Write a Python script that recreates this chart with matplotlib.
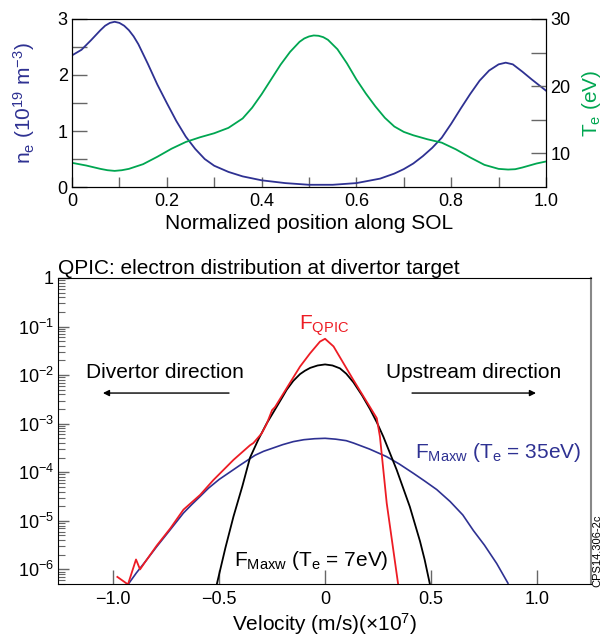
import matplotlib
matplotlib.use("Agg")
import matplotlib.pyplot as plt
from matplotlib.ticker import FixedLocator, FixedFormatter, LogLocator, NullFormatter

plt.rcParams['font.family'] = ['Liberation Sans', 'DejaVu Sans']
plt.rcParams['mathtext.fontset'] = 'custom'
plt.rcParams['mathtext.rm'] = 'Liberation Sans'
plt.rcParams['mathtext.it'] = 'Liberation Sans:italic'
plt.rcParams['mathtext.bf'] = 'Liberation Sans:bold'

# ---------------- data: top panel ----------------
ne_pos = [0.00, 0.02, 0.04, 0.06, 0.07, 0.08, 0.09, 0.10, 0.11, 0.12, 0.13, 0.14, 0.16,
          0.18, 0.20, 0.22, 0.24, 0.26, 0.28, 0.30, 0.33, 0.36, 0.40, 0.45, 0.50, 0.55,
          0.60, 0.65, 0.68, 0.70, 0.72, 0.74, 0.76, 0.78, 0.80, 0.82, 0.84, 0.86, 0.88,
          0.90, 0.915, 0.93, 0.95, 0.97, 1.00]
ne_val = [2.35, 2.45, 2.62, 2.80, 2.88, 2.93, 2.95, 2.93, 2.88, 2.80, 2.69, 2.55, 2.20,
          1.83, 1.50, 1.18, 0.90, 0.68, 0.50, 0.38, 0.27, 0.19, 0.12, 0.07, 0.04, 0.04,
          0.07, 0.15, 0.24, 0.32, 0.42, 0.55, 0.70, 0.88, 1.13, 1.40, 1.66, 1.90, 2.08,
          2.19, 2.22, 2.19, 2.06, 1.92, 1.72]

te_pos = [0.00, 0.03, 0.06, 0.075, 0.09, 0.105, 0.12, 0.15, 0.18, 0.21, 0.24, 0.27, 0.30,
          0.33, 0.36, 0.38, 0.40, 0.42, 0.44, 0.46, 0.48, 0.49, 0.50, 0.51, 0.52, 0.53,
          0.54, 0.56, 0.58, 0.60, 0.62, 0.64, 0.66, 0.68, 0.70, 0.72, 0.75, 0.78, 0.81,
          0.84, 0.87, 0.90, 0.92, 0.935, 0.95, 0.98, 1.00]
te_val = [8.6, 8.2, 7.7, 7.5, 7.4, 7.5, 7.7, 8.4, 9.5, 10.7, 11.7, 12.4, 13.0,
          13.8, 15.2, 16.8, 18.8, 21.0, 23.2, 25.1, 26.6, 27.1, 27.4, 27.55, 27.5, 27.3,
          26.9, 25.5, 23.4, 21.0, 18.9, 17.0, 15.3, 14.0, 13.2, 12.7, 12.1, 11.6, 10.6,
          9.4, 8.3, 7.7, 7.6, 7.65, 7.9, 8.5, 8.8]

pos_ticks = [0, 0.2, 0.4, 0.6, 0.8, 1.0]
pos_ticklabels = ['0', '0.2', '0.4', '0.6', '0.8', '1.0']
ne_ticks = [0, 1, 2, 3]
te_ticks = [10, 20, 30]

# ---------------- data: bottom panel ----------------
maxw35_v = [-0.928, -0.89, -0.85, -0.794, -0.73, -0.668, -0.63, -0.59, -0.55, -0.50,
            -0.45, -0.40, -0.33, -0.29, -0.245, -0.20, -0.15, -0.10, -0.05, 0.0,
            0.05, 0.10, 0.134, 0.21, 0.29, 0.35, 0.417, 0.47, 0.527, 0.59,
            0.65, 0.70, 0.752, 0.81, 0.863]
maxw35_f = [5.0e-7, 8.5e-7, 1.41e-6, 2.95e-6, 6.6e-6, 1.45e-5, 2.14e-5, 3.16e-5, 4.7e-5, 7.1e-5,
            1.0e-4, 1.41e-4, 2.24e-4, 2.7e-4, 3.16e-4, 3.7e-4, 4.27e-4, 4.68e-4, 4.9e-4, 5.0e-4,
            4.8e-4, 4.47e-4, 4.0e-4, 3.0e-4, 2.1e-4, 1.48e-4, 9.5e-5, 6.6e-5, 4.4e-5, 2.5e-5,
            1.32e-5, 6.3e-6, 3.16e-6, 1.32e-6, 5.2e-7]

qpic_v = [-0.98, -0.93, -0.892, -0.873, -0.85, -0.794, -0.73, -0.668, -0.59, -0.527,
          -0.432, -0.354, -0.338, -0.299, -0.275, -0.25, -0.236, -0.181, -0.118, -0.071,
          -0.024, 0.0, 0.04, 0.134, 0.212, 0.244, 0.259, 0.291, 0.345]
qpic_f = [7.0e-7, 4.9e-7, 1.6e-6, 1.0e-6, 1.4e-6, 3.1e-6, 7.0e-6, 1.7e-5, 3.4e-5, 6.9e-5,
          1.8e-4, 3.6e-4, 4.0e-4, 6.3e-4, 1.0e-3, 1.9e-3, 2.2e-3, 5.4e-3, 1.5e-2, 2.8e-2,
          4.9e-2, 5.6e-2, 3.9e-2, 7.9e-3, 2.2e-3, 1.3e-3, 5.4e-4, 2.3e-5, 4.9e-7]

maxw7_v = [-0.511, -0.47, -0.432, -0.39, -0.354, -0.315, -0.275, -0.228, -0.20, -0.181,
           -0.15, -0.118, -0.095, -0.07, -0.035, 0.0, 0.035, 0.07, 0.10, 0.134,
           0.175, 0.212, 0.245, 0.275, 0.338, 0.40, 0.448, 0.47, 0.495]
maxw7_f = [4.9e-7, 2.8e-6, 1.23e-5, 5.2e-5, 2.0e-4, 4.7e-4, 1.02e-3, 2.24e-3, 3.6e-3, 5.0e-3,
           7.6e-3, 1.05e-2, 1.23e-2, 1.41e-2, 1.58e-2, 1.66e-2, 1.58e-2, 1.38e-2, 1.07e-2, 7.1e-3,
           3.8e-3, 2.0e-3, 1.05e-3, 5.4e-4, 1.12e-4, 1.95e-5, 3.8e-6, 1.58e-6, 4.9e-7]

v_ticks = [-1.0, -0.5, 0, 0.5, 1.0]
v_ticklabels = ['\u22121.0', '\u22120.5', '0', '0.5', '1.0']
f_ticks = [1e-6, 1e-5, 1e-4, 1e-3, 1e-2, 1e-1, 1]
f_ticklabels = [r'$\mathregular{10^{-6}}$', r'$\mathregular{10^{-5}}$', r'$\mathregular{10^{-4}}$',
                r'$\mathregular{10^{-3}}$', r'$\mathregular{10^{-2}}$', r'$\mathregular{10^{-1}}$', '1']

BLUE = '#2e3192'
GREEN = '#00a651'
RED = '#ed1c24'
TICKC = '#666666'
FS_TICK = 13
FS_LAB = 15

fig = plt.figure(figsize=(6.05, 6.37), dpi=100)

# ---------------- top panel ----------------
ax1 = fig.add_axes([0.119, 0.7064, 0.7835, 0.2638])
ax1.plot(ne_pos, ne_val, color=BLUE, lw=1.3)
ax1.set_xlim(0, 1.0)
ax1.set_ylim(0, 3)
ax1.xaxis.set_major_locator(FixedLocator(pos_ticks))
ax1.xaxis.set_major_formatter(FixedFormatter(pos_ticklabels))
ax1.xaxis.set_minor_locator(FixedLocator([0.1, 0.3, 0.5, 0.7, 0.9]))
ax1.yaxis.set_major_locator(FixedLocator(ne_ticks))
ax1.yaxis.set_minor_locator(FixedLocator([0.5, 1.5, 2.5]))
ax1.tick_params(which='both', direction='in', color=TICKC, labelsize=FS_TICK, width=1.0)
ax1.tick_params(axis='x', which='both', length=7)
ax1.tick_params(axis='y', which='both', length=11)
ax1.tick_params(axis='x', pad=4)
ax1.tick_params(axis='y', pad=3)
ax1.set_xlabel('Normalized position along SOL', fontsize=FS_LAB, labelpad=3)
ax1.set_ylabel(r'$\mathregular{n_e}$ ($\mathregular{10^{19}}$ $\mathregular{m^{-3}}$)',
               fontsize=FS_LAB, color=BLUE, labelpad=15)

ax1b = ax1.twinx()
ax1b.plot(te_pos, te_val, color=GREEN, lw=1.3)
ax1b.set_ylim(5, 30)
ax1b.yaxis.set_major_locator(FixedLocator(te_ticks))
ax1b.yaxis.set_minor_locator(FixedLocator([15, 25]))
ax1b.tick_params(which='both', direction='in', color=TICKC, labelsize=FS_TICK, length=11, width=1.0, pad=3)
ax1b.set_ylabel(r'$\mathregular{T_e}$ (eV)', fontsize=FS_LAB, color=GREEN, labelpad=7)

# ---------------- bottom panel ----------------
ax2 = fig.add_axes([0.0959, 0.0832, 0.881, 0.4804])
ax2.plot(maxw35_v, maxw35_f, color=BLUE, lw=1.2)
ax2.plot(maxw7_v, maxw7_f, color='black', lw=1.3)
ax2.plot(qpic_v, qpic_f, color=RED, lw=1.3)
ax2.set_yscale('log')
ax2.set_xlim(-1.26, 1.255)
ax2.set_ylim(5e-7, 1)
ax2.xaxis.set_major_locator(FixedLocator(v_ticks))
ax2.xaxis.set_major_formatter(FixedFormatter(v_ticklabels))
ax2.yaxis.set_major_locator(FixedLocator(f_ticks))
ax2.yaxis.set_major_formatter(FixedFormatter(f_ticklabels))
ax2.yaxis.set_minor_locator(LogLocator(base=10, subs=range(2, 10), numticks=20))
ax2.yaxis.set_minor_formatter(NullFormatter())
ax2.tick_params(which='both', direction='in', color=TICKC, labelsize=FS_TICK)
ax2.tick_params(axis='x', which='major', length=10, width=1.0, pad=5)
ax2.tick_params(axis='y', which='major', length=8, width=1.0, pad=3)
ax2.tick_params(axis='y', which='minor', length=5, width=0.8)
ax2.spines['right'].set_color('#888888')
ax2.spines['right'].set_linewidth(1.5)
ax2.set_xlabel(r'Velocity (m/s)(×$\mathregular{10^7}$)', fontsize=FS_LAB, labelpad=2)
ax2.set_title('QPIC: electron distribution at divertor target', fontsize=FS_LAB, loc='left', pad=3)

ax2.text(0.2, 0.69, 'Divertor direction', transform=ax2.transAxes, fontsize=FS_LAB,
         ha='center', va='center')
ax2.text(0.779, 0.69, 'Upstream direction', transform=ax2.transAxes, fontsize=FS_LAB,
         ha='center', va='center')
ax2.annotate('', xy=(0.079, 0.624), xytext=(0.326, 0.624), xycoords='axes fraction',
             arrowprops=dict(arrowstyle='-|>', color='black', lw=1.0, mutation_scale=9))
ax2.annotate('', xy=(0.902, 0.624), xytext=(0.659, 0.624), xycoords='axes fraction',
             arrowprops=dict(arrowstyle='-|>', color='black', lw=1.0, mutation_scale=9))
ax2.text(0.5, 0.83, r'$\mathregular{F_{QPIC}}$', transform=ax2.transAxes, fontsize=FS_LAB,
         color=RED, ha='center', va='baseline')
ax2.text(0.67, 0.412, r'$\mathregular{F_{Maxw}}$ ($\mathregular{T_e}$ = 35eV)', transform=ax2.transAxes,
         fontsize=FS_LAB, color=BLUE, ha='left', va='baseline')
ax2.text(0.33, 0.059, r'$\mathregular{F_{Maxw}}$ ($\mathregular{T_e}$ = 7eV)', transform=ax2.transAxes,
         fontsize=FS_LAB, color='black', ha='left', va='baseline')

fig.text(0.987, 0.135, 'CPS14.306-2c', rotation=90, fontsize=8, ha='center', va='center')

fig.savefig('out.png', dpi=100)
